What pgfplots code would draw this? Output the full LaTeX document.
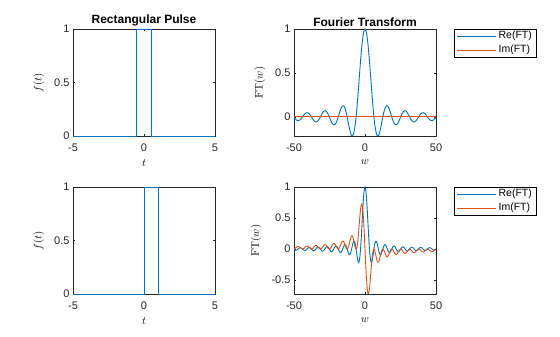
\documentclass[border=0pt]{standalone}
\usepackage[no-math]{fontspec}
\setmainfont{Liberation Sans}
\usepackage{pgfplots}
\usepackage{pgfplotstable}
\pgfplotsset{compat=1.18}
\definecolor{mblue}{rgb}{0,0.447,0.741}
\definecolor{morange}{rgb}{0.85,0.325,0.098}
\definecolor{maxis}{rgb}{0.15,0.15,0.15}

\pgfplotstableread{
w re
-50 -0.0053
-49 -0.0241
-48 -0.0377
-47 -0.0425
-46 -0.0368
-45 -0.0217
-44 -0.0004
-43 0.0219
-42 0.0398
-41 0.0486
-40 0.0456
-39 0.0311
-38 0.0079
-37 -0.0185
-36 -0.0417
-35 -0.0558
-34 -0.0566
-33 -0.0431
-32 -0.0180
-31 0.0133
-30 0.0434
-29 0.0645
-28 0.0708
-27 0.0595
-26 0.0323
-25 -0.0053
-24 -0.0447
-23 -0.0761
-22 -0.0909
-21 -0.0838
-20 -0.0544
-19 -0.0079
-18 0.0458
-17 0.0939
-16 0.1237
-15 0.1251
-14 0.0939
-13 0.0331
-12 -0.0466
-11 -0.1283
-10 -0.1918
-9 -0.2172
-8 -0.1892
-7 -0.1002
-6 0.0470
-5 0.2394
-4 0.4546
-3 0.6650
-2 0.8415
-1 0.9589
0 1
1 0.9589
2 0.8415
3 0.6650
4 0.4546
5 0.2394
6 0.0470
7 -0.1002
8 -0.1892
9 -0.2172
10 -0.1918
11 -0.1283
12 -0.0466
13 0.0331
14 0.0939
15 0.1251
16 0.1237
17 0.0939
18 0.0458
19 -0.0079
20 -0.0544
21 -0.0838
22 -0.0909
23 -0.0761
24 -0.0447
25 -0.0053
26 0.0323
27 0.0595
28 0.0708
29 0.0645
30 0.0434
31 0.0133
32 -0.0180
33 -0.0431
34 -0.0566
35 -0.0558
36 -0.0417
37 -0.0185
38 0.0079
39 0.0311
40 0.0456
41 0.0486
42 0.0398
43 0.0219
44 -0.0004
45 -0.0217
46 -0.0368
47 -0.0425
48 -0.0377
49 -0.0241
50 -0.0053
}\topdata

\pgfplotstableread{
w re im
-50 -0.0052 0.0007
-49.5 -0.0140 0.0056
-49 -0.0195 0.0143
-48.5 -0.0202 0.0246
-48 -0.0160 0.0342
-47.5 -0.0077 0.0406
-47 0.0026 0.0424
-46.5 0.0126 0.0390
-46 0.0196 0.0311
-45.5 0.0219 0.0208
-45 0.0189 0.0105
-44.5 0.0111 0.0029
-44 0.0004 0.0000
-43.5 -0.0107 0.0026
-43 -0.0193 0.0103
-42.5 -0.0234 0.0215
-42 -0.0218 0.0333
-41.5 -0.0148 0.0431
-41 -0.0039 0.0485
-40.5 0.0083 0.0480
-40 0.0186 0.0417
-39.5 0.0246 0.0311
-39 0.0247 0.0188
-38.5 0.0186 0.0079
-38 0.0078 0.0012
-37.5 -0.0053 0.0005
-37 -0.0174 0.0063
-36.5 -0.0255 0.0174
-36 -0.0275 0.0313
-35.5 -0.0228 0.0447
-35 -0.0122 0.0544
-34.5 0.0017 0.0579
-34 0.0156 0.0544
-33.5 0.0260 0.0445
-33 0.0303 0.0307
-32.5 0.0272 0.0164
-32 0.0172 0.0052
-31.5 0.0027 0.0001
-31 -0.0130 0.0028
-30.5 -0.0260 0.0128
-30 -0.0329 0.0282
-29.5 -0.0319 0.0454
-29 -0.0229 0.0603
-28.5 -0.0079 0.0693
-28 0.0097 0.0701
-27.5 0.0254 0.0624
-27 0.0354 0.0479
-26.5 0.0370 0.0301
-26 0.0293 0.0136
-25.5 0.0141 0.0026
-25 -0.0053 0.0004
-24.5 -0.0241 0.0079
-24 -0.0377 0.0240
-23.5 -0.0425 0.0452
-23 -0.0368 0.0666
-22.5 -0.0217 0.0833
-22 -0.0004 0.0909
-21.5 0.0219 0.0875
-21 0.0398 0.0737
-20.5 0.0486 0.0527
-20 0.0456 0.0296
-19.5 0.0311 0.0105
-19 0.0079 0.0006
-18.5 -0.0185 0.0033
-18 -0.0417 0.0189
-17.5 -0.0558 0.0446
-17 -0.0566 0.0750
-16.5 -0.0431 0.1032
-16 -0.0180 0.1224
-15.5 0.0133 0.1276
-15 0.0434 0.1173
-14.5 0.0645 0.0934
-14 0.0708 0.0617
-13.5 0.0595 0.0300
-13 0.0323 0.0071
-12.5 -0.0053 0.0002
-12 -0.0447 0.0130
-11.5 -0.0761 0.0450
-11 -0.0909 0.0905
-10.5 -0.0838 0.1405
-10 -0.0544 0.1839
-9.5 -0.0079 0.2102
-9 0.0458 0.2123
-8.5 0.0939 0.1885
-8 0.1237 0.1432
-7.5 0.1251 0.0871
-7 0.0939 0.0352
-6.5 0.0331 0.0036
-6 -0.0466 0.0066
-5.5 -0.1283 0.0530
-5 -0.1918 0.1433
-4.5 -0.2172 0.2691
-4 -0.1892 0.4134
-3.5 -0.1002 0.5533
-3 0.0470 0.6633
-2.5 0.2394 0.7205
-2.33 0.3109 0.7246
-2 0.4546 0.7081
-1.5 0.6650 0.6195
-1 0.8415 0.4597
-0.5 0.9589 0.2448
0 1 0
0.5 0.9589 -0.2448
1 0.8415 -0.4597
1.5 0.6650 -0.6195
2 0.4546 -0.7081
2.33 0.3109 -0.7246
2.5 0.2394 -0.7205
3 0.0470 -0.6633
3.5 -0.1002 -0.5533
4 -0.1892 -0.4134
4.5 -0.2172 -0.2691
5 -0.1918 -0.1433
5.5 -0.1283 -0.0530
6 -0.0466 -0.0066
6.5 0.0331 -0.0036
7 0.0939 -0.0352
7.5 0.1251 -0.0871
8 0.1237 -0.1432
8.5 0.0939 -0.1885
9 0.0458 -0.2123
9.5 -0.0079 -0.2102
10 -0.0544 -0.1839
10.5 -0.0838 -0.1405
11 -0.0909 -0.0905
11.5 -0.0761 -0.0450
12 -0.0447 -0.0130
12.5 -0.0053 -0.0002
13 0.0323 -0.0071
13.5 0.0595 -0.0300
14 0.0708 -0.0617
14.5 0.0645 -0.0934
15 0.0434 -0.1173
15.5 0.0133 -0.1276
16 -0.0180 -0.1224
16.5 -0.0431 -0.1032
17 -0.0566 -0.0750
17.5 -0.0558 -0.0446
18 -0.0417 -0.0189
18.5 -0.0185 -0.0033
19 0.0079 -0.0006
19.5 0.0311 -0.0105
20 0.0456 -0.0296
20.5 0.0486 -0.0527
21 0.0398 -0.0737
21.5 0.0219 -0.0875
22 -0.0004 -0.0909
22.5 -0.0217 -0.0833
23 -0.0368 -0.0666
23.5 -0.0425 -0.0452
24 -0.0377 -0.0240
24.5 -0.0241 -0.0079
25 -0.0053 -0.0004
25.5 0.0141 -0.0026
26 0.0293 -0.0136
26.5 0.0370 -0.0301
27 0.0354 -0.0479
27.5 0.0254 -0.0624
28 0.0097 -0.0701
28.5 -0.0079 -0.0693
29 -0.0229 -0.0603
29.5 -0.0319 -0.0454
30 -0.0329 -0.0282
30.5 -0.0260 -0.0128
31 -0.0130 -0.0028
31.5 0.0027 -0.0001
32 0.0172 -0.0052
32.5 0.0272 -0.0164
33 0.0303 -0.0307
33.5 0.0260 -0.0445
34 0.0156 -0.0544
34.5 0.0017 -0.0579
35 -0.0122 -0.0544
35.5 -0.0228 -0.0447
36 -0.0275 -0.0313
36.5 -0.0255 -0.0174
37 -0.0174 -0.0063
37.5 -0.0053 -0.0005
38 0.0078 -0.0012
38.5 0.0186 -0.0079
39 0.0247 -0.0188
39.5 0.0246 -0.0311
40 0.0186 -0.0417
40.5 0.0083 -0.0480
41 -0.0039 -0.0485
41.5 -0.0148 -0.0431
42 -0.0218 -0.0333
42.5 -0.0234 -0.0215
43 -0.0193 -0.0103
43.5 -0.0107 -0.0026
44 0.0004 0.0000
44.5 0.0111 -0.0029
45 0.0189 -0.0105
45.5 0.0219 -0.0208
46 0.0196 -0.0311
46.5 0.0126 -0.0390
47 0.0026 -0.0424
47.5 -0.0077 -0.0406
48 -0.0160 -0.0342
48.5 -0.0202 -0.0246
49 -0.0195 -0.0143
49.5 -0.0140 -0.0056
50 -0.0052 -0.0007
}\botdata

\pgfplotsset{mlab/.style={
  scale only axis, width=142pt, height=107pt, anchor=south west,
  set layers,
  tick align=inside, xtick pos=both, ytick pos=both, major tick length=2pt,
  axis line style={draw=maxis, line width=0.5pt},
  every tick/.style={draw=maxis, line width=0.5pt},
  tick label style={font=\fontsize{11}{13}\selectfont, text=maxis},
  xticklabel style={yshift=-4.5pt},
  /pgf/number format/assume math mode=true,
  label style={font=\fontsize{11}{13}\selectfont},
  xlabel style={yshift=-1pt},
  ylabel style={yshift=3pt},
  title style={font=\bfseries\fontsize{12}{14}\selectfont, yshift=-7pt},
  every axis plot/.append style={line width=0.9pt},
  legend image code/.code={\draw[#1] (0pt,0pt) -- (39pt,0pt);},
  legend cell align=left,
  legend style={at={(1,1)}, anchor=north west, xshift=18pt, draw=black,
    line width=0.5pt, font=\fontsize{10.5}{12}\selectfont,
    inner xsep=2pt, inner ysep=0.5pt, row sep=1pt,
    nodes={text height=7pt, text depth=2.5pt, inner ysep=1.8pt, inner xsep=2.5pt}},
}}

\begin{document}
\begin{tikzpicture}
\path (0pt,0pt) rectangle (560pt,337pt);

% top left
\begin{axis}[mlab, at={(73pt,201pt)}, clip=false,
  xmin=-5, xmax=5, ymin=0, ymax=1,
  xtick={-5,0,5}, ytick={0,0.5,1},
  title={Rectangular Pulse}, xlabel={$t$}, ylabel={$f(t)$}]
\addplot[mblue] coordinates {(-5,0) (-0.5,0) (-0.5,1) (0.5,1) (0.5,0) (5,0)};
\end{axis}

% top right
\begin{axis}[mlab, at={(294pt,201pt)},
  xmin=-50, xmax=50, ymin=-0.2172, ymax=1,
  xtick={-50,0,50}, ytick={0,0.5,1},
  title={Fourier Transform}, xlabel={$w$}, ylabel={$\mathrm{FT}(w)$}]
\addplot[mblue, smooth] table[x=w, y=re] {\topdata};
\addlegendentry{Re(FT)}
\addplot[morange] coordinates {(-50,0) (50,0)};
\addlegendentry{Im(FT)}
\end{axis}

% bottom left
\begin{axis}[mlab, at={(73pt,43pt)}, clip=false,
  xmin=-5, xmax=5, ymin=0, ymax=1,
  xtick={-5,0,5}, ytick={0,0.5,1},
  xlabel={$t$}, ylabel={$f(t)$}]
\addplot[mblue] coordinates {(-5,0) (0,0) (0,1) (1,1) (1,0) (5,0)};
\end{axis}

% bottom right
\begin{axis}[mlab, at={(294pt,43pt)},
  xmin=-50, xmax=50, ymin=-0.7246, ymax=1,
  xtick={-50,0,50}, ytick={-0.5,0,0.5,1},
  xlabel={$w$}, ylabel={$\mathrm{FT}(w)$}]
\addplot[mblue, smooth] table[x=w, y=re] {\botdata};
\addlegendentry{Re(FT)}
\addplot[morange, smooth] table[x=w, y=im] {\botdata};
\addlegendentry{Im(FT)}
\end{axis}
\end{tikzpicture}
\end{document}
